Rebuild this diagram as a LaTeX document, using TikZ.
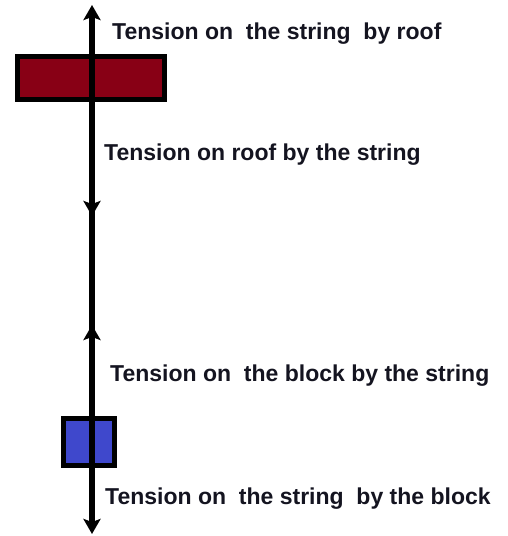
\documentclass[tikz,border=0pt]{standalone}
\usepackage{fontspec}
\setmainfont{Liberation Sans}
\usetikzlibrary{arrows.meta}
\definecolor{roofred}{HTML}{880015}
\definecolor{blockblue}{HTML}{3F48CC}
\definecolor{txt}{HTML}{141420}
\tikzset{
  box/.style={draw=black, line width=5pt, inner sep=0pt},
  string/.style={line width=5.5pt, black},
  force/.style={string, -{Stealth[length=15pt,width=17pt,inset=3pt]}},
  lbl/.style={anchor=base west, inner sep=0pt, text=txt, font=\fontsize{23}{26}\selectfont\bfseries},
}
\begin{document}
\begin{tikzpicture}[x=1pt,y=1pt]
\useasboundingbox (0,0) rectangle (507,536);
\node[box, fill=roofred, minimum width=147pt, minimum height=43pt] (roof) at (91,458) {};
\node[box, fill=blockblue, minimum width=51pt, minimum height=47pt] (block) at (89,94) {};
\coordinate (toptip) at (92,531);
\coordinate (roofbot) at (92,434);
\coordinate (midtip) at (92,320);
\coordinate (uptip) at (92,211);
\coordinate (blocktop) at (92,120);
\coordinate (blockbot) at (92,68);
\coordinate (bottip) at (92,2);
\coordinate (midjoin) at (92,327);
\coordinate (upjoin) at (92,204);
\draw[string] (roofbot) -- (roofbot |- roof.north);
\draw[string] (midjoin) -- (upjoin);
\draw[force] (roof.center -| toptip) -- (toptip);
\draw[force] (roofbot) -- (midtip);
\draw[force] (blockbot) -- (uptip);
\draw[force] (blocktop) -- (bottip);
\node[lbl] (t1) at (112,496) {Tension on\ \ the string\ \ by roof};
\node[lbl] (t2) at (104,375) {Tension on roof by the string};
\node[lbl] (t3) at (110,154) {Tension on\ \ the block by the string};
\node[lbl] (t4) at (105,31) {Tension on\ \ the string\ \ by the block};
\end{tikzpicture}
\end{document}
